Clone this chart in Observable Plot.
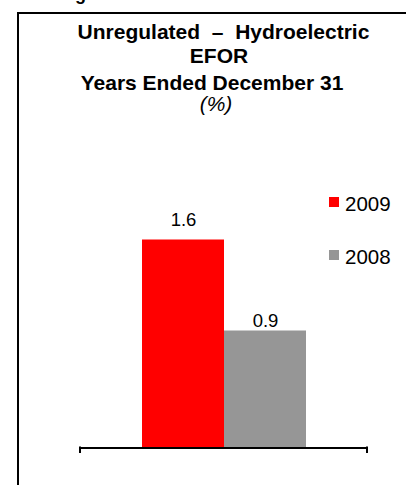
<!DOCTYPE html>
<html>
<head>
<meta charset="utf-8">
<script src="https://cdn.jsdelivr.net/npm/d3@7"></script>
<script src="https://cdn.jsdelivr.net/npm/@observablehq/plot@0.6"></script>
<style>
  html, body { margin: 0; padding: 0; background: #fff; }
  body { font-family: "Liberation Sans", Arial, sans-serif; }
  #wrap { position: relative; width: 406px; height: 485px; overflow: hidden; }
  #wrap svg { position: absolute; left: 0; top: 0; }
  .abs { position: absolute; white-space: nowrap; line-height: 1; }
  .t { width: 436px; text-align: center; font-weight: bold; font-size: 21px; color: #000; }
  .leg { font-size: 20.5px; color: #000; }
  .sw { position: absolute; width: 10px; height: 10px; }
</style>
</head>
<body>
<div id="wrap"></div>
<script>
const category = "EFOR";
const years = ["2009", "2008"];
const values = [1.6, 0.9];
const colors = ["#ff0000", "#969696"];
const titleLines = ["Unregulated  \u2013  Hydroelectric", "EFOR", "Years Ended December 31"];
const unitLine = "(%)";

const data = years.map((y, i) => ({category, year: y, value: values[i]}));

function endTicks(...args) {
  const dim = args.find(a => a && typeof a === "object" && "marginLeft" in a && "width" in a);
  const g = d3.create("svg:g");
  const yb = dim.height - dim.marginBottom;
  for (const x of [dim.marginLeft, dim.width - dim.marginRight]) {
    g.append("line").attr("x1", x).attr("x2", x).attr("y1", yb - 1).attr("y2", yb + 5.5)
      .attr("stroke", "#000").attr("stroke-width", 2);
  }
  return g.node();
}

const chart = Plot.plot({
  width: 406,
  height: 485,
  marginLeft: 80,
  marginRight: 39,
  marginTop: 187.5,
  marginBottom: 37.5,
  style: {background: "transparent", fontFamily: "'Liberation Sans', Arial, sans-serif", color: "#000"},
  x: {domain: years, paddingInner: 0, paddingOuter: 0.75, axis: null},
  y: {domain: [0, 2], axis: null},
  color: {domain: years, range: colors},
  marks: [
    Plot.barY(data, {x: "year", y: "value", fill: "year"}),
    Plot.text(data.filter(d => d.year === years[0]), {x: "year", y: "value", text: d => d.value.toFixed(1), dy: -14, fontSize: 18.5, fill: "#000", lineAnchor: "bottom"}),
    Plot.text(data.filter(d => d.year === years[1]), {x: "year", y: "value", text: d => d.value.toFixed(1), dy: -4.5, fontSize: 18.5, fill: "#000", lineAnchor: "bottom"}),
    Plot.ruleY([0], {stroke: "#000", strokeWidth: 2}),
    endTicks
  ]
});

const wrap = document.getElementById("wrap");
wrap.appendChild(chart);

function add(html, cls, style) {
  const d = document.createElement("div");
  d.className = cls;
  d.setAttribute("style", style);
  d.textContent = html;
  wrap.appendChild(d);
  return d;
}

// clipped fragment of text above the box
add("g", "abs", "left:75px; top:-15px; font-size:18px; font-weight:bold;");

// box border
add("", "abs", "left:17px; top:12px; width:500px; height:600px; border-top:2px solid #000; border-left:2px solid #000;");

// title
const tops = [21, 45, 72];
const centers = [223.5, 219, 212];
titleLines.forEach((t, i) => add(t, "abs t", `left:${centers[i] - 218}px; top:${tops[i]}px; white-space:pre;`));
add(unitLine, "abs t", "left:-2px; top:93px; font-weight:normal; font-style:italic;");

// legend
const legTops = [194, 247];
years.forEach((y, i) => {
  add("", "sw", `left:329px; top:${legTops[i] + 3}px; background:${colors[i]};`);
  add(y, "abs leg", `left:345px; top:${legTops[i]}px;`);
});
</script>
</body>
</html>
